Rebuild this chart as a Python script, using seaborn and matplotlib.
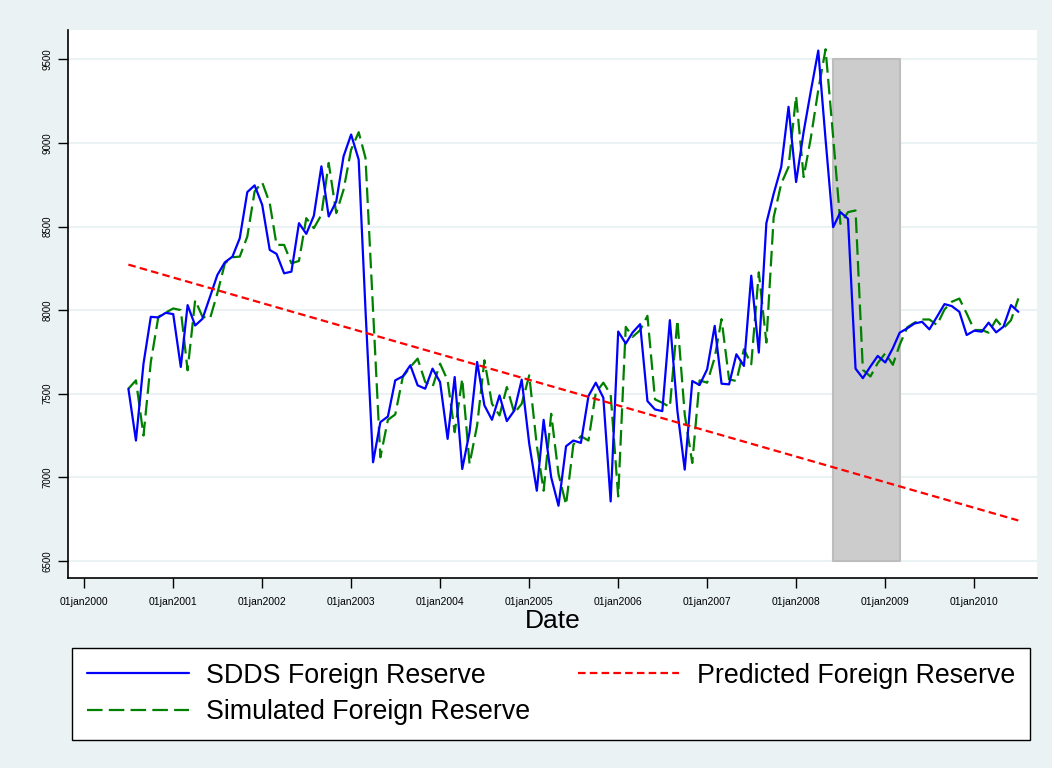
import numpy as np
import pandas as pd
import matplotlib
matplotlib.use("Agg")
import matplotlib.pyplot as plt
import seaborn as sns

# ------------------------- data -------------------------
start_month = "2000-07-01"

sdds = [7530, 7220, 7680, 7960, 7956, 7984, 7976, 7660, 8030, 7908,
        7948, 8080, 8210, 8286, 8320, 8430, 8706, 8746, 8630, 8360,
        8336, 8220, 8230, 8520, 8456, 8564, 8860, 8560, 8650, 8920,
        9050, 8900, 8000, 7090, 7330, 7364, 7580, 7604, 7670, 7550,
        7530, 7650, 7570, 7230, 7600, 7050, 7270, 7690, 7430, 7344,
        7490, 7336, 7400, 7584, 7200, 6920, 7344, 7000, 6830, 7186,
        7220, 7206, 7486, 7566, 7476, 6856, 7872, 7800, 7866, 7916,
        7456, 7406, 7396, 7940, 7396, 7046, 7576, 7552, 7646, 7906,
        7560, 7556, 7736, 7666, 8206, 7746, 8520, 8696, 8856, 9216,
        8766, 9066, 9306, 9552, 9020, 8496, 8586, 8546, 7650, 7593,
        7663, 7726, 7687, 7772, 7865, 7891, 7920, 7930, 7885, 7960,
        8036, 8024, 7990, 7851, 7877, 7871, 7925, 7867, 7901, 8030,
        7990]

simulated = [7530, 7580, 7250, 7690, 7960, 7985, 8010, 8000, 7640, 8060,
             7960, 7950, 8100, 8280, 8316, 8320, 8440, 8710, 8764, 8640,
             8390, 8390, 8280, 8294, 8550, 8490, 8570, 8880, 8580, 8720,
             8960, 9064, 8910, 8000, 7120, 7344, 7376, 7600, 7660, 7710,
             7570, 7540, 7680, 7580, 7270, 7590, 7080, 7310, 7700, 7440,
             7370, 7540, 7384, 7440, 7610, 7190, 6920, 7380, 7020, 6836,
             7196, 7246, 7220, 7506, 7566, 7496, 6886, 7900, 7840, 7880,
             7966, 7466, 7446, 7420, 7940, 7376, 7086, 7580, 7566, 7716,
             7946, 7586, 7576, 7766, 7676, 8226, 7806, 8556, 8756, 8856,
             9280, 8796, 9026, 9316, 9560, 9036, 8516, 8586, 8596, 7643,
             7603, 7683, 7742, 7673, 7792, 7897, 7925, 7944, 7944, 7911,
             8004, 8050, 8069, 7980, 7881, 7881, 7865, 7944, 7891, 7940,
             8070]

pred_dates = ["2000-07-01", "2010-07-01"]
pred_vals = [8272, 6742]

shade_dates = ["2008-06-01", "2009-03-01"]
shade_low, shade_high = 6500, 9500

years = list(range(2000, 2011))
tick_labels = ["01jan%d" % y for y in years]
y_ticks = [6500, 7000, 7500, 8000, 8500, 9000, 9500]

dates = pd.date_range(start_month, periods=len(sdds), freq="MS")
df = pd.DataFrame({"Date": dates, "SDDS": sdds, "Simulated": simulated})

# ------------------------- plot -------------------------
sns.set_style("white")
plt.rcParams["font.family"] = ["Liberation Sans", "DejaVu Sans"]
plt.rcParams["text.color"] = "black"
plt.rcParams["axes.labelcolor"] = "black"
plt.rcParams["xtick.color"] = "black"
plt.rcParams["ytick.color"] = "black"

bg = "#EAF2F3"
fig = plt.figure(figsize=(10.52, 7.68), dpi=100, facecolor=bg)
ax = fig.add_axes([0.0646, 0.2474, 0.921, 0.7135])
ax.set_facecolor("white")

ax.fill_between(pd.to_datetime(shade_dates), shade_low, shade_high,
                color="#CCCCCC", edgecolor="#BDBDBD", linewidth=1.5, zorder=1)

sns.lineplot(data=df, x="Date", y="SDDS", ax=ax, color="#0000FF", lw=1.6,
             label="SDDS Foreign Reserve", zorder=4)
sns.lineplot(data=df, x="Date", y="Simulated", ax=ax, color="#008000", lw=1.6,
             linestyle=(0, (7, 2.8)), label="Simulated Foreign Reserve", zorder=3)
sns.lineplot(x=pd.to_datetime(pred_dates), y=pred_vals, ax=ax, color="#FF0000",
             lw=1.6, linestyle=(0, (3.4, 1.9)), label="Predicted Foreign Reserve", zorder=5)

ax.set_xlim(pd.Timestamp("1999-10-27"), pd.Timestamp("2010-09-15"))
ax.set_ylim(6398, 9675)

ax.set_yticks(y_ticks)
ax.set_yticklabels([str(v) for v in y_ticks], rotation=90, va="center", fontsize=7)
ax.set_xticks(pd.to_datetime(["%d-01-01" % y for y in years]))
ax.set_xticklabels(tick_labels, fontsize=7.5)
ax.tick_params(axis="both", direction="out", length=7, width=1, color="black",
               left=True, bottom=True)
ax.tick_params(axis="x", pad=7)
ax.tick_params(axis="y", pad=4)

ax.grid(axis="y", color=bg, lw=1.5)
ax.set_axisbelow(True)

for s in ["top", "right"]:
    ax.spines[s].set_visible(False)
for s in ["left", "bottom"]:
    ax.spines[s].set_color("black")
    ax.spines[s].set_linewidth(1.2)

ax.set_xlabel("Date", fontsize=19, labelpad=1)
ax.set_ylabel("")

handles, labels = ax.get_legend_handles_labels()
ax.get_legend().remove()
leg = fig.legend(handles, labels, loc="lower left", ncol=2,
                 bbox_to_anchor=(72 / 1052, 1 - 740 / 768),
                 fontsize=19.3, frameon=True, fancybox=False, framealpha=1,
                 facecolor="white", handlelength=3.8, handletextpad=0.64,
                 columnspacing=1.78, borderpad=0.55, labelspacing=0.4,
                 borderaxespad=0.0)
leg.get_frame().set_edgecolor("black")
leg.get_frame().set_linewidth(1.0)

plt.savefig("out.png", dpi=100, facecolor=bg)
